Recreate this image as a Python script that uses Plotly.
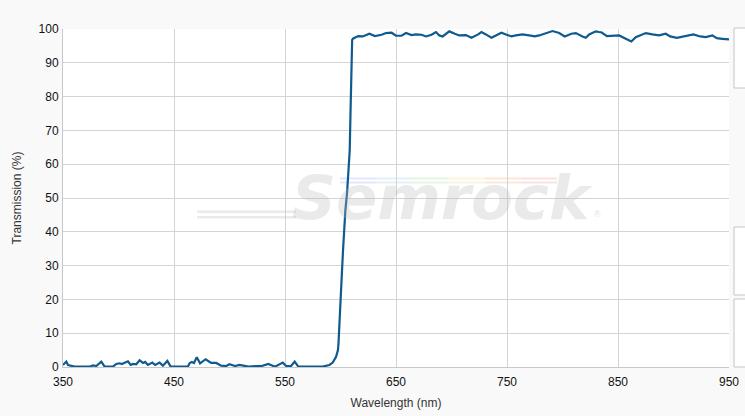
import plotly.graph_objects as go

wavelength_nm = [
    350, 351.5, 353, 354.5, 357.5, 360.5, 374, 377, 380, 384.5, 387.5, 395, 398, 401, 403,
    405.5, 408.5, 411, 413, 416, 419, 422, 424, 426.5, 430.5, 433, 437, 440, 444, 447,
    462.5, 464, 466, 468, 470.5, 473.5, 478.5, 483.5, 488, 492.5, 497, 500, 505, 509,
    513.5, 517, 524, 529, 535, 541, 548, 551, 555.5, 558.7, 562, 584,
    590, 593, 596, 597.7, 598.2, 599.3, 600.8, 602.3, 603.2, 604.4, 605.9, 607.4, 608.3,
    609.0, 609.6, 610.0, 610.5, 611.5, 613, 616, 620, 626, 631, 637, 641, 646, 650, 655,
    659, 664, 668, 673, 677, 682, 686, 689, 692, 698, 703, 707, 713, 718, 724, 727, 731,
    736, 740, 745, 749, 754, 758, 764, 770, 775, 779, 785, 791, 797, 802, 808, 812, 818,
    821, 824, 827, 830, 833, 835, 840, 845, 851, 857, 862, 866, 871, 875, 881, 887, 893,
    897, 903, 908, 914, 918, 924, 929, 935, 939, 944, 950,
]
transmission_pct = [
    0.6, 1.2, 1.6, 0.6, 0.3, 0.1, 0.1, 0.5, 0.3, 1.6, 0.1, 0.1, 0.9, 1.1, 0.9,
    1.3, 1.7, 0.6, 0.9, 0.8, 2.0, 1.2, 1.5, 0.6, 1.3, 0.6, 1.3, 0.4, 1.8, 0.1,
    0.1, 1.1, 1.5, 1.2, 2.9, 1.1, 2.3, 1.2, 1.2, 0.4, 0.3, 0.8, 0.3, 0.6,
    0.4, 0.1, 0.3, 0.3, 0.9, 0.1, 1.3, 0.3, 0.3, 1.6, 0.1, 0.1,
    0.6, 1.3, 3.0, 5.0, 7.0, 13.0, 24.8, 34.6, 40.5, 46.4, 51.4, 58.2, 64.0,
    75.0, 86.0, 95.0, 96.8, 97.2, 97.5, 97.9, 97.8, 98.6, 97.9, 98.3, 98.8, 98.9, 98.0, 98.0,
    98.8, 98.2, 98.4, 98.3, 97.8, 98.3, 99.1, 98.1, 97.8, 99.3, 98.6, 98.1, 98.2, 97.4, 98.4, 99.1, 98.4,
    97.4, 98.1, 98.9, 98.4, 97.8, 98.1, 98.4, 98.1, 97.8, 98.1, 98.8, 99.4, 98.8, 97.8, 98.6, 98.8, 97.8,
    97.4, 98.4, 98.8, 99.3, 99.1, 99.0, 97.9, 98.0, 98.1, 97.1, 96.3, 97.6, 98.4, 98.8, 98.4, 98.1, 98.6,
    97.8, 97.4, 97.8, 98.1, 98.4, 97.8, 97.6, 98.1, 97.3, 97.1, 96.9,
]
x_ticks = [350, 450, 550, 650, 750, 850, 950]
y_ticks = [0, 10, 20, 30, 40, 50, 60, 70, 80, 90, 100]

FONT = "Liberation Sans, Arial, sans-serif"
W, H = 745, 416
L, R, T, B = 63, 16, 29, 49
pw, ph = W - L - R, H - T - B


def px_x(px):
    return (px - L) / pw


def px_y(py):
    return (H - B - py) / ph


fig = go.Figure()
fig.add_trace(go.Scatter(
    x=wavelength_nm, y=transmission_pct, mode="lines",
    line=dict(color="#0f5a8e", width=2.2), hoverinfo="skip", showlegend=False,
))

shapes = []
# right-side panel boxes
for y0, y1 in [(28, 88), (227, 295), (299, 367)]:
    shapes.append(dict(type="rect", xref="paper", yref="paper",
                       x0=px_x(734), x1=px_x(760), y0=px_y(y1), y1=px_y(y0),
                       line=dict(color="#c4c4c4", width=1), fillcolor="#ffffff", layer="below"))
# watermark streaks
for py in [211.7, 217.3]:
    shapes.append(dict(type="line", xref="paper", yref="paper",
                       x0=px_x(197), x1=px_x(296), y0=px_y(py), y1=px_y(py),
                       line=dict(color="rgba(190,190,190,0.33)", width=2.5)))
rainbow = ["#e4e6fb", "#e3f1f7", "#e6f6e2", "#f8f6dc", "#fae8dc", "#f9e1e1"]
x_start, x_end = 340, 557
seg = (x_end - x_start) / len(rainbow)
for i, c in enumerate(rainbow):
    for py in [178.5, 182.5]:
        shapes.append(dict(type="line", xref="paper", yref="paper",
                           x0=px_x(x_start + i * seg), x1=px_x(x_start + (i + 1) * seg),
                           y0=px_y(py), y1=px_y(py), line=dict(color=c, width=2.2), layer="below"))

annotations = [
    dict(text="<b><i>Semrock</i></b>", xref="paper", yref="paper",
         x=px_x(442), y=px_y(197), xanchor="center", yanchor="middle", showarrow=False,
         font=dict(family="DejaVu Sans", size=61, color="rgba(185,185,185,0.30)")),
    dict(text="®", xref="paper", yref="paper", x=px_x(597), y=px_y(214),
         xanchor="center", yanchor="middle", showarrow=False,
         font=dict(family=FONT, size=9, color="rgba(185,185,185,0.45)")),
]

fig.update_layout(
    width=W, height=H,
    margin=dict(l=L, r=R, t=T, b=B, autoexpand=False),
    paper_bgcolor="#f9f9f9", plot_bgcolor="#ffffff",
    font=dict(family=FONT, size=12, color="#111111"),
    shapes=shapes, annotations=annotations,
    xaxis=dict(range=[350, 950], tickvals=x_ticks, ticktext=[str(v) for v in x_ticks],
               showgrid=True, gridcolor="#d4d4d4", gridwidth=1, zeroline=False,
               showline=True, linecolor="#c8c8c8", linewidth=1,
               ticks="outside", ticklen=4, tickcolor="rgba(0,0,0,0)",
               tickfont=dict(family=FONT, size=12, color="#111111"),
               title=dict(text="Wavelength (nm)", standoff=10,
                          font=dict(family=FONT, size=12, color="#333333"))),
    yaxis=dict(range=[0, 100], tickvals=y_ticks, ticktext=[str(v) for v in y_ticks],
               showgrid=True, gridcolor="#d4d4d4", gridwidth=1, zeroline=False,
               showline=True, linecolor="#c8c8c8", linewidth=1,
               ticks="outside", ticklen=1, tickcolor="rgba(0,0,0,0)",
               tickfont=dict(family=FONT, size=12, color="#111111"),
               title=dict(text="Transmission (%)", standoff=14,
                          font=dict(family=FONT, size=12, color="#333333"))),
)

fig.write_html("out.html", config={"displayModeBar": False},
               post_script="document.body.style.margin='0';document.body.style.overflow='hidden';")
